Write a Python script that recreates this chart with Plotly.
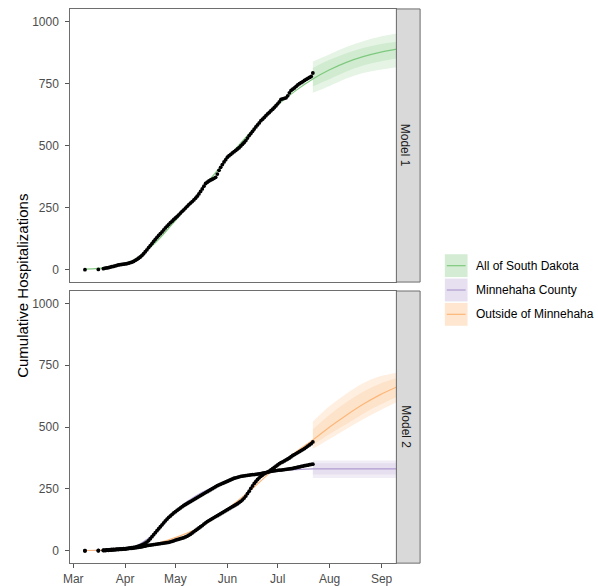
import plotly.graph_objects as go
import pandas as pd

# ---------------- data ----------------
obs_dates = ['2020-03-08', '2020-03-16'] + [d.strftime('%Y-%m-%d') for d in pd.date_range('2020-03-19', '2020-07-22')]

sd_obs = ([0, 1] +
          [4, 6, 7, 8, 10, 12, 13, 15, 17, 19, 20, 21, 22] +
          [23, 24, 26, 28, 30, 33, 37, 41, 46, 51, 57, 64, 72, 80, 89, 97, 105, 114, 122, 130,
           138, 145, 152, 160, 168, 175, 182, 189, 195, 202] +
          [208, 214, 221, 228, 235, 241, 248, 255, 262, 268, 274, 281, 288, 296, 305, 315, 325, 336, 347, 352,
           357, 361, 364, 368, 372, 385, 400, 412, 423, 434, 443] +
          [453, 459, 464, 470, 475, 480, 486, 491, 498, 505, 512, 520, 530, 540, 548, 557, 566, 575, 583, 591,
           600, 606, 613, 620, 627, 633, 640, 646, 653, 660] +
          [668, 676, 686, 688, 690, 692, 700, 712, 722, 727, 732, 738, 744, 749, 753, 757, 762, 766, 770, 774,
           778, 792])

minn_obs = ([0, 1] +
            [2, 2, 3, 3, 4, 5, 5, 6, 7, 7, 8, 8, 9] +
            [9, 10, 11, 12, 13, 14, 15, 17, 19, 21, 24, 27, 31, 35, 41, 49, 57, 65, 73, 81,
             89, 97, 105, 113, 121, 128, 135, 141, 147, 153] +
            [158, 163, 168, 173, 178, 183, 187, 191, 195, 199, 203, 207, 211, 215, 219, 223, 227, 231, 235, 239,
             243, 247, 251, 255, 259, 263, 266, 269, 272, 275, 278] +
            [281, 284, 287, 290, 293, 295, 297, 299, 301, 302, 303, 304, 305, 306, 307, 308, 308, 309, 310, 311,
             312, 314, 315, 316, 318, 319, 321, 322, 323, 324] +
            [325, 326, 326, 327, 328, 329, 330, 331, 332, 333, 335, 336, 338, 339, 341, 342, 344, 345, 346, 348,
             349, 350])

out_obs = ([0, 0] +
           [1, 1, 2, 2, 3, 3, 4, 4, 5, 5, 6, 6, 7] +
           [7, 8, 9, 10, 10, 11, 12, 13, 14, 15, 16, 18, 19, 21, 22, 23, 24, 25, 26, 27,
            28, 29, 30, 31, 32, 33, 34, 36, 38, 40] +
           [43, 45, 47, 49, 51, 53, 56, 59, 63, 67, 72, 77, 82, 87, 92, 97, 102, 108, 113, 118,
            122, 126, 130, 134, 138, 142, 146, 150, 154, 158, 162] +
           [166, 170, 174, 178, 182, 186, 190, 195, 200, 206, 213, 221, 231, 241, 252, 262, 272, 280, 288, 295,
            301, 306, 311, 315, 318, 322, 327, 332, 337, 342] +
           [347, 352, 356, 359, 363, 367, 371, 375, 380, 385, 389, 393, 397, 401, 405, 409, 413, 418, 423, 428,
            433, 440])

# fitted model curves
fit_dates = ['2020-03-08', '2020-03-22', '2020-04-05', '2020-04-19', '2020-05-03', '2020-05-17', '2020-05-31',
             '2020-06-14', '2020-06-28', '2020-07-12', '2020-07-22', '2020-08-01', '2020-08-11', '2020-08-21',
             '2020-08-31', '2020-09-10']
sd_fit = [2, 9, 35, 108, 214, 325, 440, 548, 645, 722, 768, 805, 835, 858, 875, 888]
minn_fit = [1, 3, 12, 72, 172, 236, 278, 307, 321, 328, 331, 331, 331, 331, 331, 331]
out_fit = [1, 4, 12, 28, 58, 100, 165, 240, 325, 400, 448, 500, 548, 592, 630, 662]

# projection intervals
proj_dates = ['2020-07-22', '2020-08-01', '2020-08-11', '2020-08-21', '2020-08-31', '2020-09-10']
sd_outer_lo = [712, 740, 770, 792, 805, 815]
sd_outer_hi = [838, 868, 897, 920, 938, 951]
sd_inner_lo = [738, 768, 798, 822, 838, 850]
sd_inner_hi = [812, 845, 872, 893, 908, 918]
minn_outer_lo = [294, 294, 294, 294, 294, 294]
minn_outer_hi = [365, 365, 365, 365, 365, 365]
minn_inner_lo = [308, 308, 308, 308, 308, 308]
minn_inner_hi = [354, 354, 354, 354, 354, 354]
out_outer_lo = [412, 452, 492, 532, 567, 600]
out_outer_hi = [522, 585, 635, 677, 705, 720]
out_inner_lo = [427, 472, 512, 554, 590, 622]
out_inner_hi = [490, 550, 600, 643, 675, 698]

series_names = ['All of South Dakota', 'Minnehaha County', 'Outside of Minnehaha']
panel_names = ['Model 1', 'Model 2']
y_ticks = [0, 250, 500, 750, 1000]

# ---------------- styling ----------------
W, H = 598, 586
FONT = 'Liberation Sans, Arial, Helvetica, sans-serif'
LINE_COL = {'green': '#7FC97F', 'purple': '#AE9CD0', 'orange': '#FDB77A'}
RIB_COL = {'green': 'rgba(127,201,127,0.2)', 'purple': 'rgba(190,174,212,0.22)', 'orange': 'rgba(253,192,134,0.25)'}
KEY_FILL = ['#d3ecd3', '#e6e0f0', '#fee6d0']
KEY_LINE = [LINE_COL['green'], LINE_COL['purple'], LINE_COL['orange']]


def px(x):
    return x / W


def py(y):
    return 1 - y / H


PL, PR = 64, 394
P1T, P1B = 9, 284
P2T, P2B = 293, 567
STRIP_R = 418

fig = go.Figure()


def add_ribbon(lo, hi, col, xa, ya):
    fig.add_trace(go.Scatter(x=proj_dates, y=lo, mode='lines', line=dict(width=0, shape='spline'),
                             xaxis=xa, yaxis=ya, showlegend=False, hoverinfo='skip'))
    fig.add_trace(go.Scatter(x=proj_dates, y=hi, mode='lines', line=dict(width=0, shape='spline'),
                             fill='tonexty', fillcolor=col, xaxis=xa, yaxis=ya, showlegend=False,
                             hoverinfo='skip'))


def add_line(y, col, xa, ya):
    fig.add_trace(go.Scatter(x=fit_dates, y=y, mode='lines', line=dict(color=col, width=1.2, shape='spline'),
                             xaxis=xa, yaxis=ya, showlegend=False))


def add_points(y, xa, ya):
    fig.add_trace(go.Scatter(x=obs_dates, y=y, mode='markers',
                             marker=dict(color='black', size=3.8, line=dict(width=0)),
                             xaxis=xa, yaxis=ya, showlegend=False))


# panel 1
add_ribbon(sd_outer_lo, sd_outer_hi, RIB_COL['green'], 'x', 'y')
add_ribbon(sd_inner_lo, sd_inner_hi, RIB_COL['green'], 'x', 'y')
add_line(sd_fit, LINE_COL['green'], 'x', 'y')
add_points(sd_obs, 'x', 'y')

# panel 2
add_ribbon(minn_outer_lo, minn_outer_hi, RIB_COL['purple'], 'x2', 'y2')
add_ribbon(minn_inner_lo, minn_inner_hi, RIB_COL['purple'], 'x2', 'y2')
add_ribbon(out_outer_lo, out_outer_hi, RIB_COL['orange'], 'x2', 'y2')
add_ribbon(out_inner_lo, out_inner_hi, RIB_COL['orange'], 'x2', 'y2')
add_line(minn_fit, LINE_COL['purple'], 'x2', 'y2')
add_line(out_fit, LINE_COL['orange'], 'x2', 'y2')
add_points(minn_obs, 'x2', 'y2')
add_points(out_obs, 'x2', 'y2')

x_range = ['2020-02-28 05:30', '2020-09-09 20:30']
tickfont = dict(family=FONT, size=12, color='#4d4d4d')
common_x = dict(type='date', range=x_range, showgrid=False, zeroline=False, showline=True, mirror=True,
                linecolor='#6e6e6e', linewidth=1, tick0='2020-03-01', dtick='M1', tickformat='%b',
                tickfont=tickfont, ticklen=4, tickcolor='#555', tickwidth=1)
common_y = dict(range=[-50, 1050], showgrid=False, zeroline=False, showline=True, mirror=True,
                linecolor='#6e6e6e', linewidth=1, tickvals=y_ticks, ticks='outside', ticklen=4,
                tickcolor='#555', tickwidth=1, tickfont=tickfont, ticklabelstandoff=4)

fig.update_layout(
    width=W, height=H, autosize=False,
    margin=dict(l=0, r=0, t=0, b=0),
    paper_bgcolor='white', plot_bgcolor='white',
    showlegend=False,
    xaxis=dict(common_x, domain=[px(PL), px(PR)], anchor='y', ticks='', showticklabels=False),
    yaxis=dict(common_y, domain=[py(P1B), py(P1T)], anchor='x'),
    xaxis2=dict(common_x, domain=[px(PL), px(PR)], anchor='y2', ticks='outside', showticklabels=True),
    yaxis2=dict(common_y, domain=[py(P2B), py(P2T)], anchor='x2'),
    font=dict(family=FONT),
)

shapes = []
annotations = []
# strips
for name, (t, b) in zip(panel_names, [(P1T, P1B), (P2T, P2B)]):
    shapes.append(dict(type='rect', xref='paper', yref='paper', x0=px(PR), x1=px(STRIP_R),
                       y0=py(b), y1=py(t), fillcolor='#d9d9d9', line=dict(color='#6e6e6e', width=1)))
    annotations.append(dict(xref='paper', yref='paper', x=px(403.5), y=py((t + b) / 2),
                            xanchor='center', yanchor='middle',
                            text=name, showarrow=False, textangle=90,
                            font=dict(family=FONT, size=12, color='#1a1a1a')))

# y-axis title
annotations.append(dict(xref='paper', yref='paper', x=px(15), y=py((P1T + P2B) / 2),
                        xanchor='center', yanchor='middle',
                        text='Cumulative Hospitalizations', showarrow=False, textangle=-90,
                        font=dict(family=FONT, size=15, color='black')))

# legend
KX0, KX1 = 443, 466
key_tops = [256, 280.5, 305]
for name, top, fill, lc in zip(series_names, key_tops, KEY_FILL, KEY_LINE):
    shapes.append(dict(type='rect', xref='paper', yref='paper', x0=px(KX0), x1=px(KX1),
                       y0=py(top + 23), y1=py(top), fillcolor=fill, line=dict(width=0)))
    shapes.append(dict(type='line', xref='paper', yref='paper', x0=px(KX0 + 2), x1=px(KX1 - 2),
                       y0=py(top + 11.5), y1=py(top + 11.5), line=dict(color=lc, width=1.2)))
    annotations.append(dict(xref='paper', yref='paper', x=px(473), y=py(top + 11.5), text=name,
                            showarrow=False, xanchor='left', yanchor='middle',
                            font=dict(family=FONT, size=12, color='black')))

fig.update_layout(shapes=shapes, annotations=annotations)

fig.write_html('out.html', config={'displayModeBar': False},
               post_script="document.body.style.margin='0';document.body.style.padding='0';"
                           "document.body.style.overflow='hidden';")
